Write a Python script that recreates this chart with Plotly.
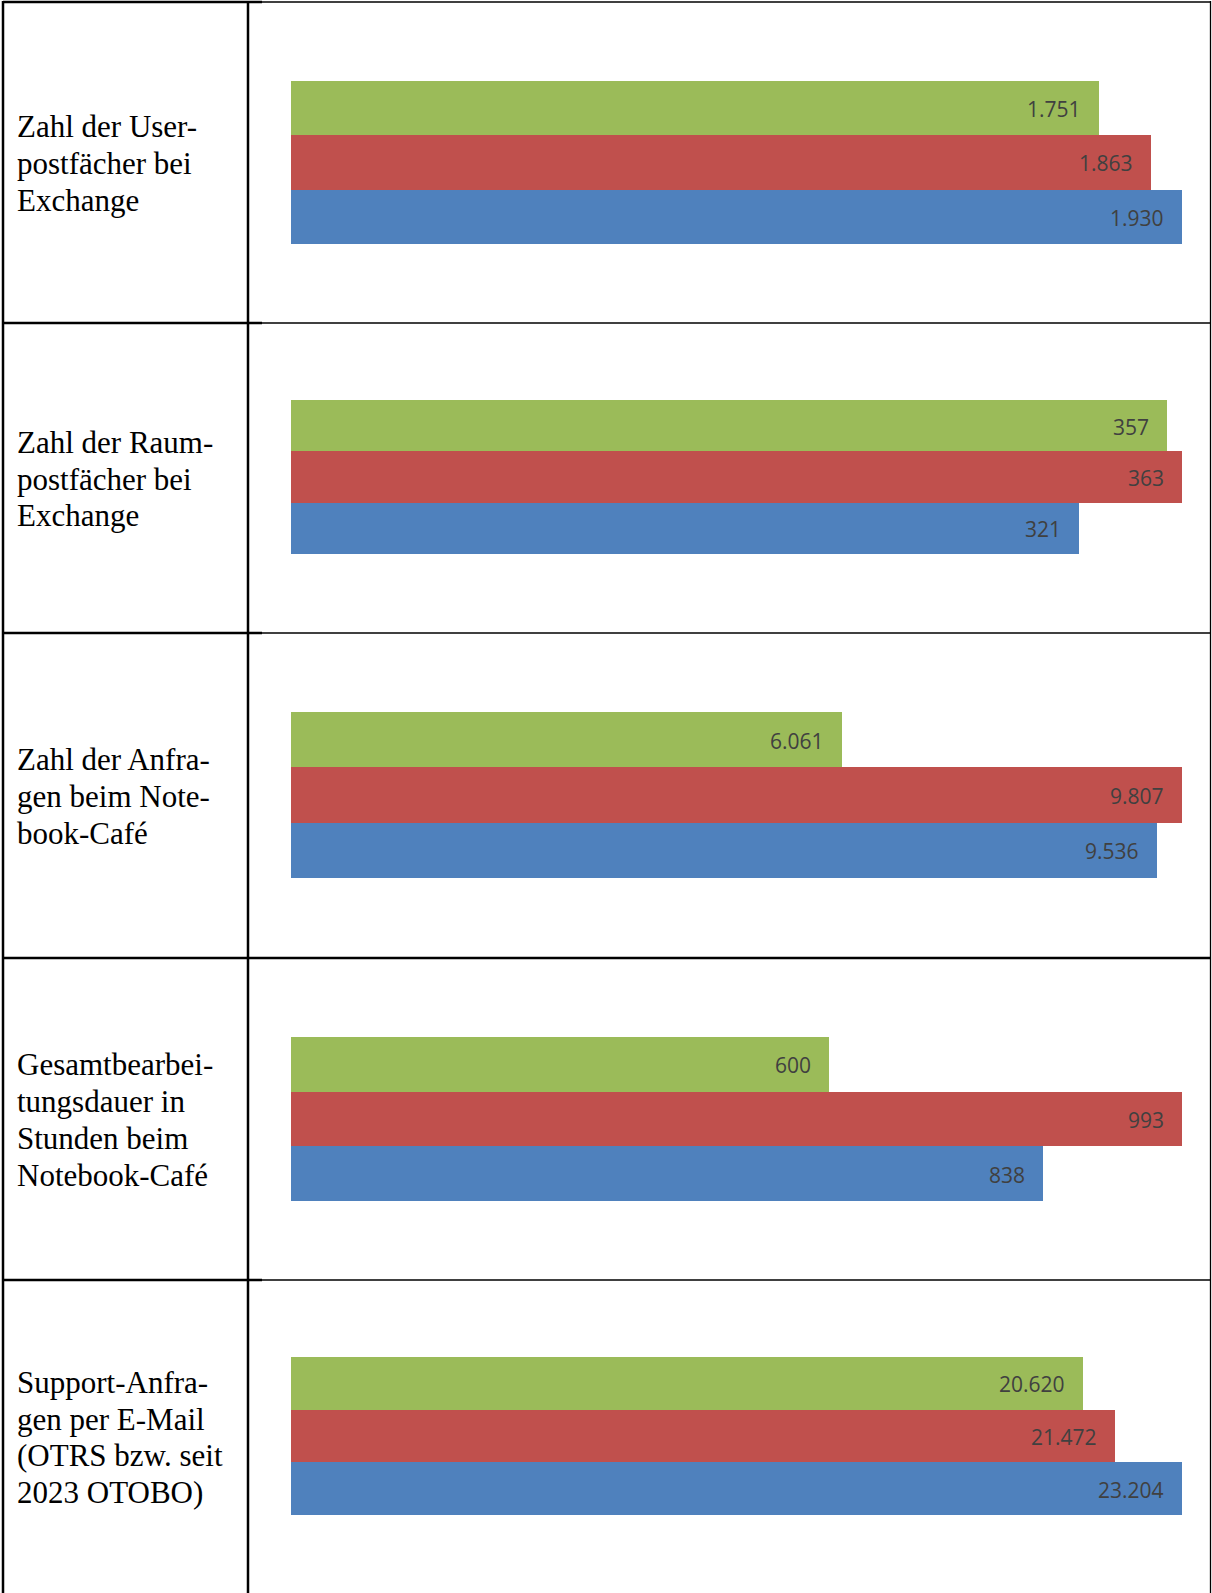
import plotly.graph_objects as go
from plotly.subplots import make_subplots

# ---- data ----
row_labels = [
    ["Zahl der User-", "postfächer bei", "Exchange"],
    ["Zahl der Raum-", "postfächer bei", "Exchange"],
    ["Zahl der Anfra-", "gen beim Note-", "book-Café"],
    ["Gesamtbearbei-", "tungsdauer in", "Stunden beim", "Notebook-Café"],
    ["Support-Anfra-", "gen per E-Mail", "(OTRS bzw. seit", "2023 OTOBO)"],
]
series_names = ["Reihe 1", "Reihe 2", "Reihe 3"]          # blue, red, green (bottom -> top)
series_colors = ["#4F81BD", "#C0504D", "#9BBB59"]
values_blue = [1930, 321, 9536, 838, 23204]
values_red = [1863, 363, 9807, 993, 21472]
values_green = [1751, 357, 6061, 600, 20620]

# ---- layout geometry (pixels) ----
W, H = 1212, 1593
row_bounds = [2, 323, 633, 958, 1280, 1593]
bar_spans = [(81, 244), (400, 554), (712, 878), (1037, 1201), (1357, 1515)]
bar_left, bar_right = 291, 1182

def px_x(x):
    return x / W

def px_y(y):
    return 1 - y / H

fig = make_subplots(rows=5, cols=1)

annotations = []
for i in range(5):
    vals = [values_blue[i], values_red[i], values_green[i]]
    fig.add_trace(
        go.Bar(
            y=series_names, x=vals, orientation="h",
            marker=dict(color=series_colors, line=dict(width=0)),
            showlegend=False, hoverinfo="x",
        ),
        row=i + 1, col=1,
    )
    xa = "xaxis" if i == 0 else f"xaxis{i+1}"
    ya = "yaxis" if i == 0 else f"yaxis{i+1}"
    top, bot = bar_spans[i]
    fig.layout[xa].update(domain=[px_x(bar_left), px_x(bar_right)], range=[0, max(vals)],
                          visible=False, fixedrange=True)
    fig.layout[ya].update(domain=[px_y(bot), px_y(top)], range=[-0.5, 2.5],
                          categoryorder="array", categoryarray=series_names,
                          visible=False, fixedrange=True)
    xref = "x" if i == 0 else f"x{i+1}"
    yref = "y" if i == 0 else f"y{i+1}"
    for name, v in zip(series_names, vals):
        annotations.append(dict(
            x=v, y=name, xref=xref, yref=yref, xanchor="right", yanchor="middle",
            xshift=-16, yshift=-1, showarrow=False, text=f"{v:,}".replace(",", "."),
            font=dict(family="Open Sans, sans-serif", size=21, color="#404040"),
        ))
    # row label lines
    lines = row_labels[i]
    center = (row_bounds[i] + row_bounds[i + 1]) / 2
    n = len(lines)
    for k, line in enumerate(lines):
        yc = center + (k - (n - 1) / 2) * 36.7
        annotations.append(dict(
            x=px_x(15), y=px_y(yc + 1), xref="paper", yref="paper", xanchor="left", yanchor="middle",
            showarrow=False, text=line,
            font=dict(family="Liberation Serif, Times New Roman, serif", size=31, color="#000000"),
        ))

shapes = []
def hline(y, x0, x1, w):
    shapes.append(dict(type="line", xref="paper", yref="paper", x0=px_x(x0), x1=px_x(x1),
                       y0=px_y(y), y1=px_y(y), line=dict(color="black", width=w)))

def vline(x, y0, y1, w):
    shapes.append(dict(type="line", xref="paper", yref="paper", x0=px_x(x), x1=px_x(x),
                       y0=px_y(y0), y1=px_y(y1), line=dict(color="black", width=w)))

# top border
hline(2, 3, 262, 2.5)
hline(2, 262, 1211, 1.3)
# row separators
for y in [323, 633, 1280]:
    hline(y, 3, 262, 2.5)
    hline(y, 262, 1211, 1.3)
hline(958, 3, 1211, 2.5)
# vertical lines
vline(3, 1, 1593, 2.5)
vline(248, 1, 1593, 2.5)
vline(1210.5, 1, 1593, 1.3)

fig.update_layout(
    width=W, height=H,
    margin=dict(l=0, r=0, t=0, b=0),
    paper_bgcolor="white", plot_bgcolor="white",
    bargap=0, barmode="overlay",
    annotations=annotations, shapes=shapes,
    showlegend=False,
)

fig.write_html(
    "out.html",
    config={"displayModeBar": False},
    post_script="document.body.style.margin='0';document.body.style.overflow='hidden';",
)
